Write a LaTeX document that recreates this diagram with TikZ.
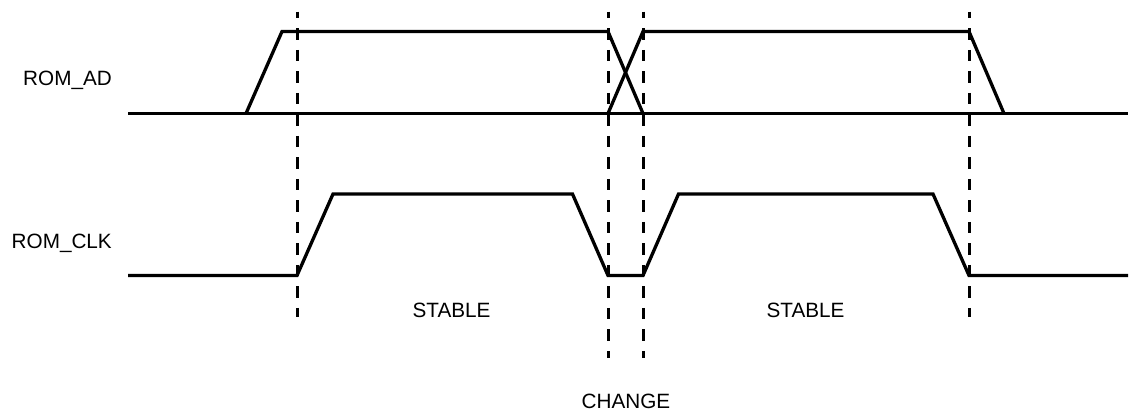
\documentclass[tikz,border=0pt]{standalone}
\usepackage{fontspec}
\setmainfont{Liberation Sans}
\begin{document}
\begin{tikzpicture}[x=1pt,y=-1pt,
  signal/.style={line width=3.3pt,line join=miter,black},
  guide/.style={line width=3pt,black,dash pattern=on 11.5pt off 10pt,dash phase=4.8pt},
  lbl/.style={inner sep=0pt,font=\fontsize{20.7pt}{24pt}\selectfont}]
\useasboundingbox (0,0) rectangle (1131,412);
% guide lines
\coordinate (g1t) at (297,11.7); \coordinate (g1b) at (297,317);
\coordinate (g2t) at (608,11.7); \coordinate (g2b) at (608,358);
\coordinate (g3t) at (643,11.7); \coordinate (g3b) at (643,358);
\coordinate (g4t) at (969,11.7); \coordinate (g4b) at (969,317);
\draw[guide] (g1t) -- (g1b);
\draw[guide] (g2t) -- (g2b);
\draw[guide] (g3t) -- (g3b);
\draw[guide] (g4t) -- (g4b);
% ROM_AD
\draw[signal] (128,113.5) -- (1128,113.5);
\draw[signal] (246,113.5) -- (282,31.5) -- (608,31.5) -- (643,113.5);
\draw[signal] (608,113.5) -- (643,31.5) -- (969,31.5) -- (1004,113.5);
% ROM_CLK
\draw[signal] (128,275.5) -- (297,275.5) -- (333,194) -- (572.5,194) -- (608,275.5)
  -- (643,275.5) -- (678.5,194) -- (933,194) -- (969,275.5) -- (1128,275.5);
% labels
\node[lbl,anchor=base east] (ad) at (112,85) {ROM\_AD};
\node[lbl,anchor=base east] (clk) at (112,248) {ROM\_CLK};
\node[lbl,anchor=base] (s1) at (451.5,317) {STABLE};
\node[lbl,anchor=base] (s2) at (805.5,317) {STABLE};
\node[lbl,anchor=base] (ch) at (626,408) {CHANGE};
\end{tikzpicture}
\end{document}
